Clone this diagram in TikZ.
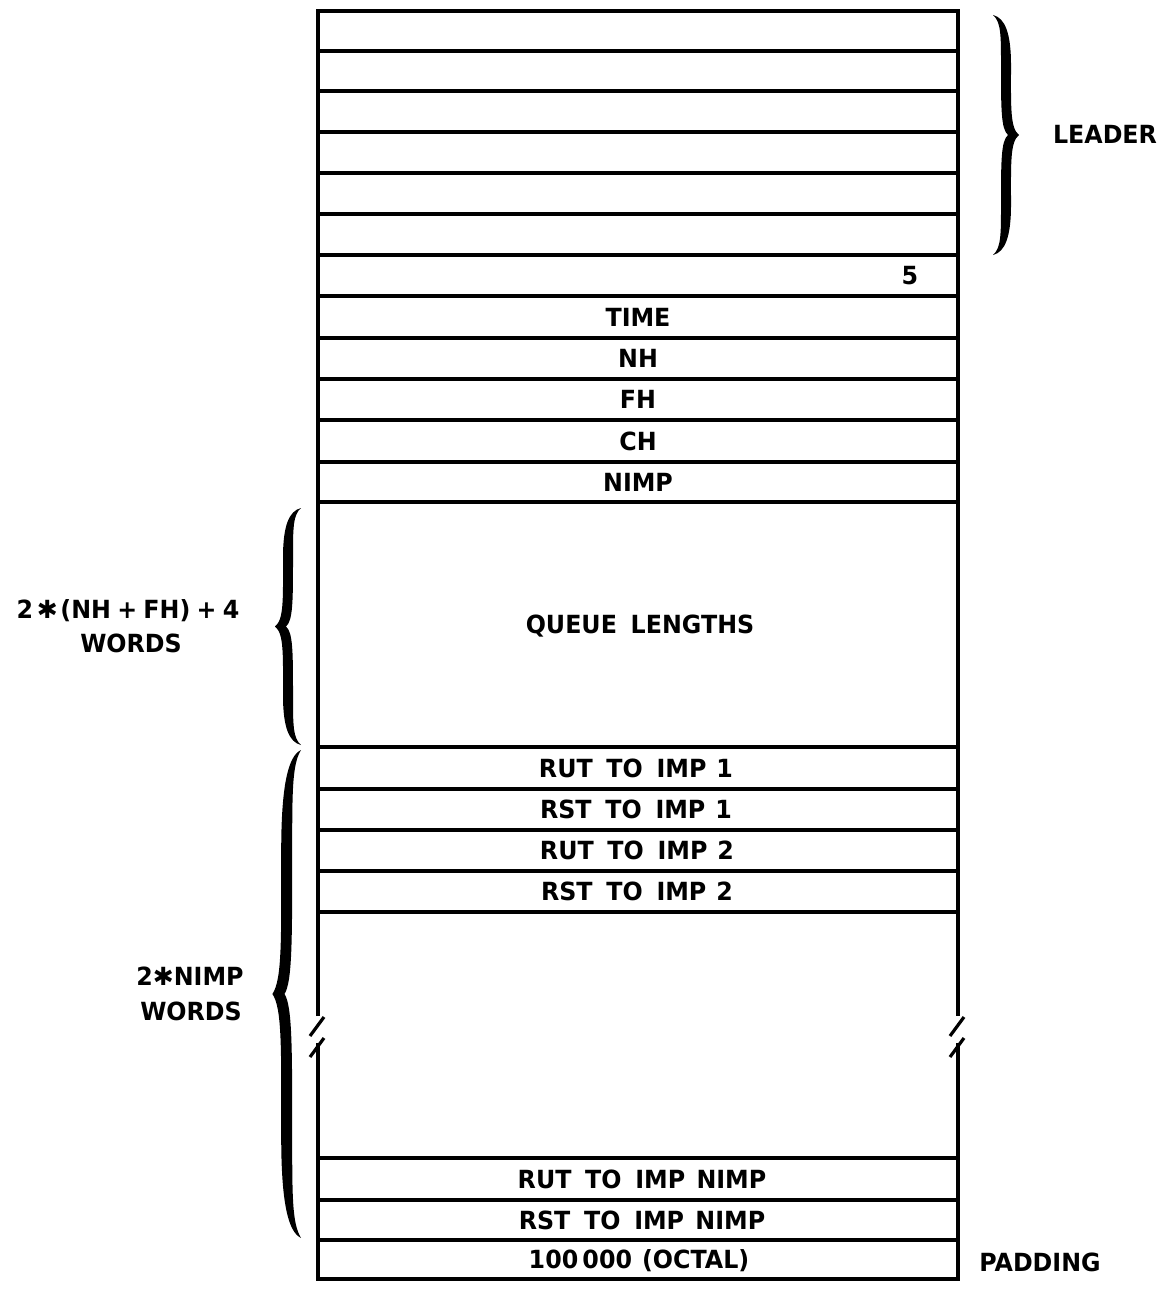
\documentclass[tikz,border=0pt]{standalone}
\usepackage{fontspec}
\setmainfont{DejaVu Sans}
\newfontfamily\lblfont{DejaVu Sans Bold}[FakeStretch=0.95]
\newcommand\wsp{\hspace{0.55em}}
\begin{document}
\begin{tikzpicture}[x=1pt,y=-1pt,
  frame/.style={line width=4pt,line join=miter},
  slash/.style={line width=3.2pt},
  lbl/.style={font=\fontsize{25}{27}\lblfont,inner sep=0pt,text height=18.2pt,text depth=0pt},
  side/.style={lbl},
  tbrace/.pic={
    \fill (0,0) .. controls (12,3) and (18,18) .. (18,50) .. controls (18,92) and (17,113) .. (26,120)
      .. controls (17,127) and (18,148) .. (18,190) .. controls (18,222) and (12,237) .. (0,240)
      .. controls (8,233) and (8,220) .. (8,190) .. controls (8,146) and (8,126) .. (15,120)
      .. controls (8,114) and (8,94) .. (8,50) .. controls (8,20) and (8,7) .. (0,0) -- cycle;
  }]
\useasboundingbox (0,0) rectangle (1167,1290);
% outer frame with break
\draw[frame] (318,1016) -- (318,11) -- (958,11) -- (958,1016);
\draw[frame] (318,1043) -- (318,1279) -- (958,1279) -- (958,1043);
\draw[slash] (324,1017) -- (310,1036);
\draw[slash] (324,1038) -- (310,1057);
\draw[slash] (964,1017) -- (950,1036);
\draw[slash] (964,1038) -- (950,1057);
% row lines
\foreach \yy in {51,91,132,173,214,255,296,338,379,420,462,502,747,789,830,871,912,1158,1200,1240}
  \draw[frame] (318,\yy) -- (958,\yy);
% labels in rows
\node[lbl] (five) at (910,275.5) {5};
\node[lbl] (time) at (638,317) {TIME};
\node[lbl] (nh) at (638,358.5) {NH};
\node[lbl] (fh) at (638,399.5) {FH};
\node[lbl] (ch) at (638,441) {CH};
\node[lbl] (nimp) at (638,482) {NIMP};
\node[lbl] (queue) at (640,624.5) {QUEUE\wsp LENGTHS};
\node[lbl] (rut1) at (636,768) {RUT\wsp TO\wsp IMP\hspace{0.4em}1};
\node[lbl] (rst1) at (636,809.5) {RST\wsp TO\wsp IMP\hspace{0.4em}1};
\node[lbl] (rut2) at (637,850.5) {RUT\wsp TO\wsp IMP\hspace{0.4em}2};
\node[lbl] (rst2) at (637,891.5) {RST\wsp TO\wsp IMP\hspace{0.4em}2};
\node[lbl] (rutn) at (642,1179) {RUT\wsp TO\wsp IMP\hspace{0.45em}NIMP};
\node[lbl] (rstn) at (642,1220) {RST\wsp TO\wsp IMP\hspace{0.45em}NIMP};
\node[lbl] (octal) at (639,1259.5) {100\,000\hspace{0.4em}(OCTAL)};
% side labels
\node[side] (leader) at (1105,134) {LEADER};
\node[side] (padding) at (1040,1262) {PADDING};
\node[side] (ql1) at (128,609) {2\hspace{0.15em}{\fontspec{DejaVu Sans}✱}\hspace{0.1em}(NH\hspace{0.25em}+\hspace{0.25em}FH)\hspace{0.25em}+\hspace{0.25em}4};
\node[side] (ql2) at (131,643) {WORDS};
\node[side] (nw1) at (190,976) {2{\fontspec{DejaVu Sans}✱}NIMP};
\node[side] (nw2) at (191,1011) {WORDS};
% braces
\pic at (993,15) {tbrace};
\pic[xscale=-1.0,yscale=0.9875] at (301,508) {tbrace};
\pic[xscale=-1.1,yscale=2.033] at (301,750) {tbrace};
\end{tikzpicture}
\end{document}
